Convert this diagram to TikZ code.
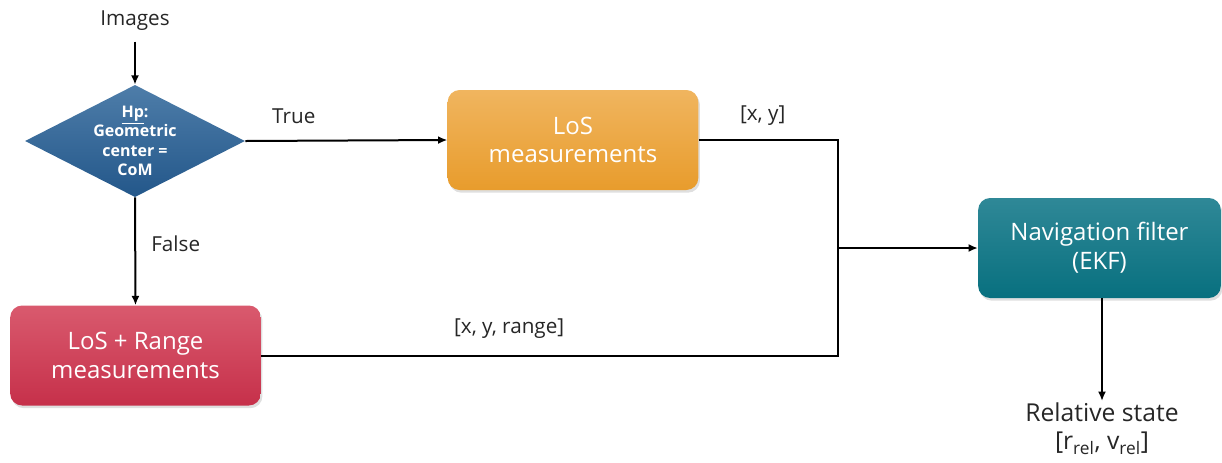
\documentclass[tikz,border=0pt]{standalone}
\usepackage{fontspec}
\setmainfont{Open Sans}
\usetikzlibrary{shapes.geometric,arrows.meta,shadows}
\definecolor{dmtop}{HTML}{4E7DA9}
\definecolor{dmbot}{HTML}{23578A}
\definecolor{ortop}{HTML}{F0B55F}
\definecolor{orbot}{HTML}{E89C2C}
\definecolor{rdtop}{HTML}{D95A6E}
\definecolor{rdbot}{HTML}{C6304A}
\definecolor{tltop}{HTML}{2F8897}
\definecolor{tlbot}{HTML}{08707F}
\tikzset{
  blockbox/.style={rounded corners=9pt, minimum width=188pt, minimum height=75pt,
    align=center, text=white, font=\fontsize{18}{21.5}\selectfont,
    drop shadow={opacity=0.25, shadow xshift=1.2pt, shadow yshift=-2pt}},
  wire/.style={line width=1.5pt, black},
  flow/.style={wire, -{Latex[length=7pt,width=6pt]}},
  lbl/.style={font=\fontsize{15.5}{18}\selectfont, text=black!85},
}
\begin{document}
\begin{tikzpicture}[x=0.75pt, y=-0.75pt]
  \useasboundingbox (0,0) rectangle (1222,462);

  % input label and decision
  \node[lbl] (img) at (135,21) {Images};
  \node[diamond, aspect=1.96, minimum width=165pt, minimum height=84pt, inner sep=0pt,
        top color=dmtop, bottom color=dmbot, text=white, align=center,
        font=\bfseries\fontsize{12}{14.5}\selectfont] (hp) at (135,141)
        {\underline{Hp}:\\Geometric\\center =\\CoM};

  % measurement blocks
  \node[blockbox, top color=ortop, bottom color=orbot] (los) at (573,140)
        {LoS\\measurements};
  \node[blockbox, top color=rdtop, bottom color=rdbot] (losr) at (135.5,355.5)
        {LoS + Range\\measurements};
  \node[blockbox, minimum width=182pt, top color=tltop, bottom color=tlbot] (nav) at (1099.5,248)
        {Navigation filter\\(EKF)};

  % filter output
  \node[lbl, font=\fontsize{18.5}{21}\selectfont, align=center, anchor=north, inner sep=1pt] (state) at (1102,401)
        {Relative state\\{}[r\textsubscript{rel}, v\textsubscript{rel}]};

  \coordinate (join) at (838,248);

  % connectors
  \draw[flow] (img.south) ++(0,6) -- (hp.north);
  \draw[flow] (hp.east) -- node[lbl, above=9pt, pos=0.24] (ltrue) {True} (los.west);
  \draw[flow] (hp.south) -- node[lbl, right=8pt, pos=0.43] (lfalse) {False} (losr.north);
  \draw[wire] (los.east) -- node[lbl, above=7pt, pos=0.46] (lxy) {[x, y]} (join |- los.east) -- (join);
  \draw[wire] (losr.east) -- node[lbl, above=9pt, pos=0.43] (lxyr) {[x, y, range]} (join |- losr.east) -- (join);
  \draw[flow] (join) -- (nav.west);
  \draw[flow] (nav.south -| state.north) -- (state.north);
\end{tikzpicture}
\end{document}
